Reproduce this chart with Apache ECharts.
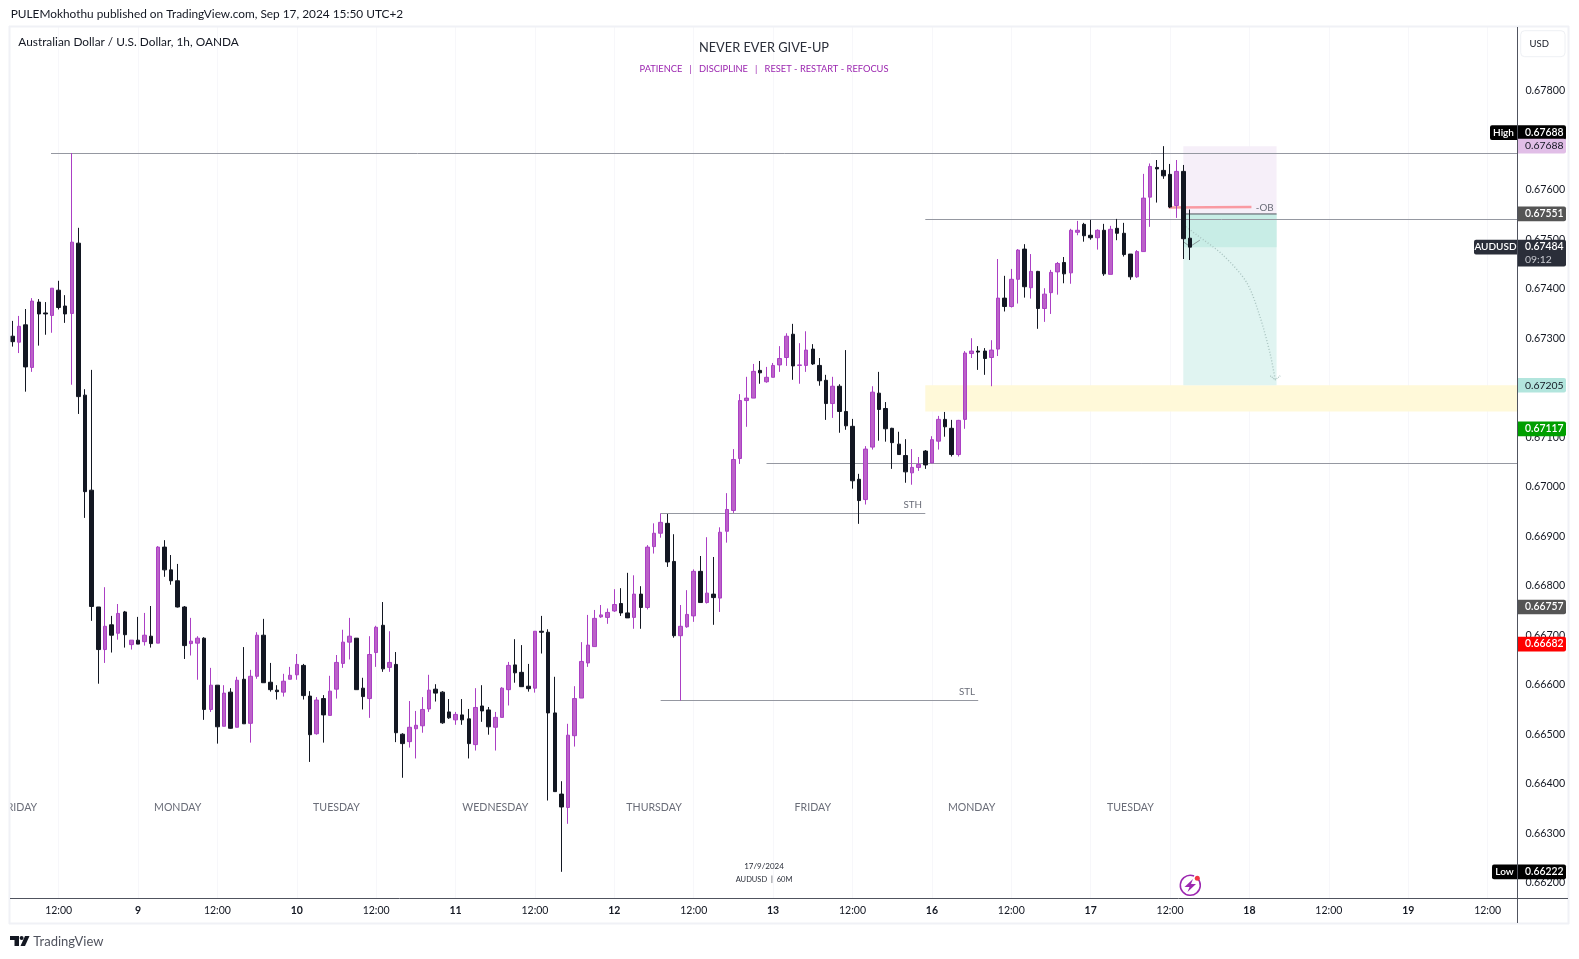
<!DOCTYPE html>
<html><head><meta charset="utf-8"><title>AUDUSD</title>
<style>html,body{margin:0;padding:0;background:#fff}#c{width:1579px;height:959px}</style>
<script src="https://cdn.jsdelivr.net/npm/echarts@6/dist/echarts.min.js"></script></head>
<body><div id="c"></div><script>
const opens=[.67304,.67292,.67327,.67241,.67373,.67351,.67346,.67397,.67365,.67350,.67492,.67185,.66993,.66757,.66671,.66721,.66704,.66747,.66681,.66690,.66687,.66698,.66684,.66878,.66832,.66810,.66757,.66683,.66684,.66694,.66550,.66599,.66516,.66585,.66514,.66611,.66522,.66617,.66700,.66605,.66589,.66585,.66611,.66620,.66639,.66577,.66501,.66572,.66538,.66591,.66643,.66686,.66694,.66593,.66572,.66665,.66720,.66635,.66641,.66500,.66485,.66511,.66517,.66551,.66591,.66585,.66545,.66529,.66539,.66531,.66479,.66557,.66549,.66514,.66534,.66590,.66640,.66625,.66597,.66593,.66708,.66706,.66543,.66379,.66352,.66497,.66573,.66644,.66677,.66737,.66736,.66749,.66764,.66745,.66736,.66783,.66756,.66879,.66906,.66926,.66849,.66699,.66717,.66739,.66829,.66766,.66783,.66775,.66910,.66952,.67057,.67174,.67179,.67235,.67212,.67221,.67246,.67261,.67308,.67245,.67245,.67278,.67245,.67215,.67168,.67203,.67152,.67122,.67015,.66974,.67080,.67189,.67158,.67118,.67086,.67063,.67028,.67039,.67072,.67048,.67092,.67136,.67118,.67065,.67136,.67269,.67274,.67274,.67261,.67278,.67381,.67364,.67419,.67480,.67402,.67435,.67360,.67392,.67434,.67453,.67432,.67514,.67530,.67508,.67503,.67518,.67429,.67522,.67512,.67470,.67424,.67475,.67585,.67645,.67639,.67631,.67568,.67637,.67502];
const closes=[.67293,.67324,.67242,.67375,.67349,.67349,.67401,.67362,.67349,.67494,.67182,.66990,.66758,.66671,.66718,.66700,.66744,.66701,.66690,.66682,.66700,.66683,.66878,.66832,.66810,.66757,.66679,.66688,.66694,.66550,.66599,.66515,.66583,.66512,.66609,.66521,.66617,.66700,.66604,.66590,.66586,.66607,.66619,.66641,.66578,.66499,.66569,.66539,.66587,.66645,.66686,.66698,.66590,.66576,.66661,.66716,.66632,.66645,.66503,.66481,.66514,.66518,.66550,.66589,.66583,.66523,.66533,.66540,.66529,.66481,.66554,.66547,.66515,.66534,.66593,.66639,.66624,.66596,.66592,.66708,.66706,.66543,.66384,.66353,.66498,.66572,.66647,.66680,.66734,.66741,.66746,.66762,.66745,.66735,.66783,.66756,.66878,.66906,.66928,.66848,.66699,.66718,.66742,.66829,.66766,.66785,.66776,.66908,.66954,.67055,.67174,.67179,.67233,.67230,.67221,.67245,.67259,.67304,.67244,.67246,.67276,.67248,.67214,.67168,.67203,.67152,.67123,.67012,.66972,.67076,.67191,.67156,.67117,.67089,.67065,.67030,.67039,.67045,.67044,.67095,.67136,.67121,.67065,.67134,.67270,.67274,.67272,.67259,.67276,.67381,.67364,.67419,.67478,.67404,.67435,.67360,.67389,.67433,.67451,.67430,.67518,.67518,.67507,.67503,.67518,.67430,.67520,.67512,.67469,.67424,.67475,.67583,.67647,.67642,.67628,.67565,.67637,.67501,.67484];
const highs=[.67335,.67345,.67359,.67381,.67379,.67373,.67401,.67416,.67387,.67674,.67523,.67197,.67236,.66757,.66797,.66739,.66763,.66749,.66690,.66737,.66745,.66759,.66880,.66892,.66862,.66844,.66759,.66735,.66698,.66696,.66634,.66599,.66599,.66593,.66616,.66676,.66630,.66706,.66733,.66644,.66599,.66622,.66636,.66662,.66642,.66587,.66575,.66579,.66618,.66660,.66711,.66735,.66694,.66614,.66698,.66719,.66767,.66708,.66666,.66502,.66567,.66547,.66575,.66620,.66601,.66587,.66571,.66545,.66571,.66551,.66593,.66599,.66555,.66545,.66595,.66646,.66692,.66680,.66642,.66708,.66739,.66712,.66616,.66405,.66521,.66597,.66686,.66741,.66751,.66761,.66754,.66793,.66795,.66826,.66821,.66799,.66882,.66926,.66946,.66945,.66904,.66761,.66791,.66833,.66860,.66898,.66858,.66918,.66987,.67076,.67187,.67222,.67248,.67254,.67242,.67250,.67284,.67310,.67329,.67290,.67314,.67288,.67260,.67226,.67222,.67207,.67276,.67137,.67026,.67082,.67203,.67232,.67171,.67119,.67111,.67096,.67076,.67060,.67074,.67102,.67143,.67151,.67135,.67135,.67274,.67300,.67284,.67280,.67296,.67460,.67426,.67440,.67480,.67490,.67470,.67436,.67401,.67438,.67454,.67464,.67521,.67537,.67533,.67539,.67520,.67531,.67527,.67541,.67533,.67470,.67478,.67632,.67653,.67660,.67688,.67652,.67660,.67650,.67560];
const lows=[.67283,.67270,.67192,.67232,.67285,.67307,.67311,.67358,.67331,.67206,.67147,.66937,.66729,.66602,.66644,.66665,.66691,.66675,.66671,.66682,.66679,.66675,.66684,.66818,.66802,.66756,.66652,.66659,.66610,.66529,.66545,.66481,.66516,.66511,.66514,.66521,.66483,.66612,.66604,.66586,.66570,.66576,.66611,.66610,.66570,.66444,.66499,.66483,.66538,.66572,.66634,.66651,.66590,.66550,.66533,.66636,.66626,.66626,.66484,.66412,.66473,.66451,.66503,.66545,.66566,.66521,.66531,.66519,.66519,.66451,.66467,.66525,.66499,.66467,.66534,.66558,.66604,.66596,.66586,.66584,.66663,.66366,.66384,.66222,.66319,.66475,.66573,.66636,.66677,.66735,.66723,.66747,.66739,.66735,.66713,.66713,.66752,.66865,.66897,.66838,.66695,.66568,.66715,.66727,.66766,.66764,.66721,.66747,.66887,.66947,.67046,.67121,.67179,.67208,.67210,.67221,.67232,.67244,.67216,.67208,.67232,.67246,.67204,.67135,.67139,.67109,.67115,.66996,.66925,.66964,.67075,.67093,.67091,.67036,.67065,.67008,.67004,.67032,.67036,.67048,.67075,.67101,.67061,.67061,.67117,.67260,.67236,.67226,.67203,.67264,.67354,.67362,.67370,.67382,.67380,.67319,.67333,.67349,.67388,.67411,.67410,.67508,.67495,.67499,.67479,.67426,.67429,.67498,.67465,.67418,.67422,.67475,.67525,.67574,.67622,.67563,.67543,.67460,.67458];

const barCount=228;
const xTickLabels=['12:00','9','12:00','10','12:00','11','12:00','12','12:00','13','12:00','16','12:00','17','12:00','18','12:00','19','12:00'];
const firstTickBar=7, barsPerTick=12;
const yTicks=[.662,.663,.664,.665,.666,.667,.668,.669,.670,.671,.672,.673,.674,.675,.676,.677,.678];
const weekdayNames=['FRIDAY','MONDAY','TUESDAY','WEDNESDAY','THURSDAY','FRIDAY','MONDAY','TUESDAY'];
const weekdayBars=[1,25,49,73,97,121,145,169];
const weekdayPrice=.66352;

const segStart=[5.85,138,114,98,98];
const segEnd=[227.5,227.5,227.5,138,146];
const segPrice=[.67674,.67540,.67047,.66946,.66568];
const zoneStart=[138,177,177,177];
const zoneEnd=[227.5,191.1,191.1,191.1];
const zoneTop=[.67205,.67688,.67551,.67551];
const zoneBottom=[.67152,.67551,.67205,.67484];
const obBars=[174.8,187.3], obPrices=[.67564,.67565];
const entryBars=[177,191.1], entryPrice=.67551;
const pathBars=[177.4,179,183,186.6,188.6,190.1,190.9];
const pathPrices=[.67525,.67509,.67468,.67412,.67343,.67270,.67216];
const tickBars=[177,178,179.5], tickPrices=[.67495,.67485,.67498];
const noteBars=[136.1,189.3,144.3], notePrices=[.66963,.67564,.66585], noteTexts=['STH','-OB','STL'];
const tagPrices=[.67688,.67688,.67551,.67484,.67205,.67117,.66757,.66682,.66222];
const tagTexts=['0.67688','0.67688','0.67551','0.67484','0.67205','0.67117','0.66757','0.66682','0.66222'];

const FONT='Lato, "Noto Sans", sans-serif';
const UP='#bb62c8',UPB='#ab3fc4',DOWN='#131722';
const tagStyle=[
 {bg:'#000',fg:'#fff',dy:-13.5,side:'High',sideBg:'#000',sideW:27,bold:1},
 {bg:'#e1bee7',fg:'#131722'},
 {bg:'#555',fg:'#fff',bold:1},
 {bg:'#2a2e39',fg:'#fff',side:'AUDUSD',sideBg:'#2a2e39',sideW:43,bold:1,sub:'09:12'},
 {bg:'#b2e5dd',fg:'#131722'},
 {bg:'#009f00',fg:'#fff',bold:1},
 {bg:'#555',fg:'#fff',bold:1},
 {bg:'#ff0000',fg:'#fff',bold:1},
 {bg:'#000',fg:'#fff',side:'Low',sideBg:'#000',sideW:25,bold:1}
];
const zoneFill=['#fff9d9','#f6eff9','#e0f4f1','#c8ede6'];

const categories=Array.from({length:barCount},(_,i)=>{
  const k=(i-firstTickBar)/barsPerTick;
  return Number.isInteger(k)&&xTickLabels[k]?xTickLabels[k]:'';
});
const px=(api,bar,price)=>{const b=api.coord([0,price]);return [b[0]+bar*api.size([1,0])[0],b[1]];};
const chart=echarts.init(document.getElementById('c'),null,{renderer:'canvas'});
const hasTick=(i,v)=>v!=='';

const graphic=[
 {type:'text',z:10,x:10.7,y:14.3,style:{text:'PULEMokhothu published on TradingView.com, Sep 17, 2024 15:50 UTC+2',font:'11.85px '+FONT,fill:'#131722',verticalAlign:'middle'}},
 {type:'text',z:10,x:18.3,y:42.3,style:{text:'Australian Dollar / U.S. Dollar, 1h, OANDA',font:'11.85px '+FONT,fill:'#131722',verticalAlign:'middle'}},
 {type:'text',z:10,x:764,y:48.3,style:{text:'NEVER EVER GIVE-UP',font:'12.8px '+FONT,fill:'#2a2e39',align:'center',verticalAlign:'middle'}},
 {type:'text',z:10,x:764,y:69.3,style:{text:'PATIENCE   |   DISCIPLINE   |   RESET - RESTART - REFOCUS',font:'9.3px '+FONT,fill:'#9c27b0',align:'center',verticalAlign:'middle'}},
 {type:'text',z:10,x:764,y:866,style:{text:'17/9/2024',font:'8px '+FONT,fill:'#2a2e39',align:'center',verticalAlign:'middle'}},
 {type:'text',z:10,x:764,y:880,style:{text:'AUDUSD  |  60M',font:'7.5px '+FONT,fill:'#2a2e39',align:'center',verticalAlign:'middle'}},
 {type:'line',z:10,shape:{x1:9.5,y1:26,x2:9.5,y2:924},style:{stroke:'#f0f1f6',lineWidth:2}},
 {type:'line',z:10,shape:{x1:9,y1:26.5,x2:1569,y2:26.5},style:{stroke:'#f0f1f6',lineWidth:2}},
 {type:'line',z:10,shape:{x1:9,y1:923.5,x2:1569,y2:923.5},style:{stroke:'#f0f1f6',lineWidth:2}},
 {type:'line',z:10,shape:{x1:1568.5,y1:26,x2:1568.5,y2:924},style:{stroke:'#f0f1f6',lineWidth:2}},
 {type:'line',z:10,shape:{x1:1517.5,y1:27,x2:1517.5,y2:923},style:{stroke:'#50535e',lineWidth:1}},
 {type:'line',z:10,shape:{x1:10,y1:898.5,x2:1568,y2:898.5},style:{stroke:'#50535e',lineWidth:1}},
 {type:'rect',z:10,shape:{x:1520.7,y:30.7,width:44.3,height:26,r:4},style:{fill:'#fff',stroke:'#eef0f4',lineWidth:1}},
 {type:'text',z:10,x:1539.3,y:44.3,style:{text:'USD',font:'9.5px '+FONT,fill:'#131722',align:'center',verticalAlign:'middle'}},
 {type:'polygon',z:10,shape:{points:[[10,936],[19,936],[19,946],[14.5,946],[14.5,940],[10,940]]},style:{fill:'#131722'}},
 {type:'circle',z:10,shape:{cx:21.6,cy:938,r:2},style:{fill:'#131722'}},
 {type:'polygon',z:10,shape:{points:[[25,936],[29.5,936],[25,946],[20.5,946]]},style:{fill:'#131722'}},
 {type:'text',z:10,x:33.3,y:941.7,style:{text:'TradingView',font:'13px '+FONT,fill:'#50535e',verticalAlign:'middle'}},
 {type:'arc',z:10,shape:{cx:1190.3,cy:885.3,r:10,startAngle:-0.7,endAngle:5.1},style:{fill:'none',stroke:'#9c27b0',lineWidth:1.5}},
 {type:'polygon',z:10,shape:{points:[[1193,879],[1184.5,887],[1189.5,887],[1187.5,892],[1196,884],[1191,884]]},style:{fill:'#9c27b0'}},
 {type:'circle',z:10,shape:{cx:1197.3,cy:878.3,r:2.5},style:{fill:'#f23645'}}
];

chart.setOption({
 animation:false,backgroundColor:'#fff',graphic,
 grid:{left:9,top:27,width:1508.4,height:871.3,containLabel:false},
 xAxis:{type:'category',data:categories,boundaryGap:true,
  axisLine:{show:false},axisTick:{show:false},
  splitLine:{show:true,alignWithLabel:true,interval:hasTick,lineStyle:{color:'#f7f7fa',width:1}},
  axisLabel:{interval:hasTick,margin:7,hideOverlap:false,color:'#131722',fontSize:10.5,fontFamily:FONT,
   formatter:v=>v.indexOf(':')>=0?v:'{d|'+v+'}',rich:{d:{fontWeight:700,fontSize:10.5,fontFamily:FONT,color:'#131722'}}}},
 yAxis:{type:'value',position:'right',min:.661685,max:.679287,scale:true,
  axisLine:{show:false},axisTick:{show:false},splitLine:{show:false},
  axisLabel:{customValues:yTicks,margin:8,color:'#131722',fontSize:10.7,fontFamily:FONT,formatter:v=>v.toFixed(5)}},
 series:[
  {type:'custom',name:'zones',z:1,clip:true,silent:true,data:zoneTop.map(p=>[0,p]),
   renderItem(params,api){const i=params.dataIndex,a=px(api,zoneStart[i],zoneTop[i]),b=px(api,zoneEnd[i],zoneBottom[i]);
    return {type:'rect',shape:{x:a[0],y:a[1],width:b[0]-a[0],height:b[1]-a[1]},style:{fill:zoneFill[i]}};}},
  {type:'custom',name:'levels',z:1,clip:true,silent:true,data:segPrice.map(p=>[0,p]),
   renderItem(params,api){const i=params.dataIndex,a=px(api,segStart[i],segPrice[i]),b=px(api,segEnd[i],segPrice[i]);
    const y=Math.floor(a[1])+.5;
    return {type:'line',shape:{x1:a[0],y1:y,x2:b[0],y2:y},style:{stroke:'#9598a1',lineWidth:1}};}},
  {type:'custom',name:'marks',z:1,clip:false,silent:true,data:[[0,entryPrice]],
   renderItem(params,api){
    const a=px(api,entryBars[0],entryPrice),b=px(api,entryBars[1],entryPrice);
    const r1=px(api,obBars[0],obPrices[0]),r2=px(api,obBars[1],obPrices[1]);
    const pts=pathBars.map((d,i)=>px(api,d,pathPrices[i])),t=pts[pts.length-1];
    const tk=tickBars.map((d,i)=>px(api,d,tickPrices[i]));
    return {type:'group',children:[
     {type:'line',shape:{x1:a[0],y1:a[1],x2:b[0],y2:b[1]},style:{stroke:'#50535e',lineWidth:1}},
     {type:'line',shape:{x1:r1[0],y1:r1[1],x2:r2[0],y2:r2[1]},style:{stroke:'#f99aa2',lineWidth:2.5}},
     {type:'polyline',shape:{points:pts,smooth:.3},style:{fill:'none',stroke:'#a9c4c0',lineWidth:1.4,lineDash:[1,2]}},
     {type:'polyline',shape:{points:[[t[0]-5,t[1]-4],t,[t[0]+5,t[1]-4]]},style:{fill:'none',stroke:'#a9c4c0',lineWidth:1.2,lineDash:[1,1]}},
     {type:'polyline',shape:{points:tk},style:{fill:'none',stroke:'#8a9a9a',lineWidth:1}}
    ]};}},
  {type:'candlestick',name:'AUDUSD',z:2,barWidth:4,silent:true,
   data:opens.map((o,i)=>[o,closes[i],lows[i],highs[i]]),
   itemStyle:{color:UP,color0:DOWN,borderColor:UPB,borderColor0:DOWN,borderWidth:1}},
  {type:'custom',name:'weekdays',z:3,clip:true,silent:true,data:weekdayBars.map(()=>[0,weekdayPrice]),
   renderItem(params,api){const i=params.dataIndex,p=px(api,weekdayBars[i],weekdayPrice);
    return {type:'text',x:p[0],y:p[1],style:{text:weekdayNames[i],font:'10.6px '+FONT,fill:'#6a6d78',align:'center',verticalAlign:'middle'}};}},
  {type:'custom',name:'notes',z:3,clip:false,silent:true,data:notePrices.map(p=>[0,p]),
   renderItem(params,api){const i=params.dataIndex,p=px(api,noteBars[i],notePrices[i]);
    return {type:'text',x:p[0],y:p[1],style:{text:noteTexts[i],font:'9.8px '+FONT,fill:'#6a6d78',align:'center',verticalAlign:'middle'}};}},
  {type:'custom',name:'tags',z:5,clip:false,silent:true,data:tagPrices.map(p=>[0,p]),
   renderItem(params,api){const i=params.dataIndex,s=tagStyle[i],y=api.coord([0,tagPrices[i]])[1]+(s.dy||0);
    const h=14.7,top=y-h/2,ch=[];const fontW=s.bold?'600 ':'';
    ch.push({type:'rect',shape:{x:1518,y:top,width:48,height:s.sub?26.7:h,r:[0,2,2,0]},style:{fill:s.bg}});
    ch.push({type:'text',x:1525,y:y,style:{text:tagTexts[i],font:fontW+'10.4px '+FONT,fill:s.fg,verticalAlign:'middle'}});
    if(s.sub)ch.push({type:'text',x:1525,y:y+12.5,style:{text:s.sub,font:'10.4px '+FONT,fill:'#c8cad0',verticalAlign:'middle'}});
    if(s.side){ch.push({type:'rect',shape:{x:1517-s.sideW,y:top,width:s.sideW,height:h,r:[2,0,0,2]},style:{fill:s.sideBg}});
     ch.push({type:'text',x:1517-s.sideW/2,y:y,style:{text:s.side,font:'600 10px '+FONT,fill:'#fff',align:'center',verticalAlign:'middle'}});}
    return {type:'group',children:ch};}}
 ]
});
</script></body></html>
